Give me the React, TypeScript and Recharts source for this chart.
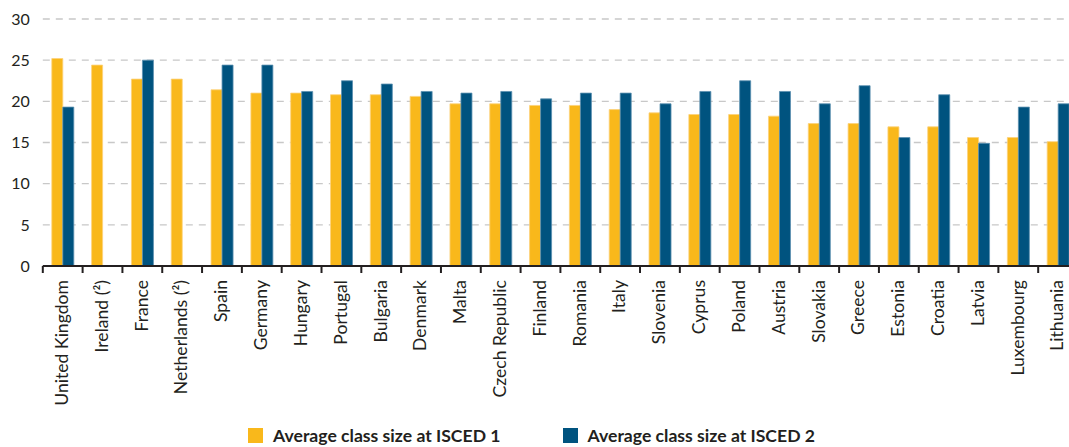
import React from 'react';
import { BarChart, Bar, XAxis, YAxis, CartesianGrid, Legend } from 'recharts';

const countries = [
    'United Kingdom', 'Ireland (²)', 'France', 'Netherlands (²)', 'Spain', 'Germany', 'Hungary',
    'Portugal', 'Bulgaria', 'Denmark', 'Malta', 'Czech Republic', 'Finland', 'Romania', 'Italy',
    'Slovenia', 'Cyprus', 'Poland', 'Austria', 'Slovakia', 'Greece', 'Estonia', 'Croatia',
    'Latvia', 'Luxembourg', 'Lithuania',
];

const isced1 = [
    25.2, 24.4, 22.7, 22.7, 21.4, 21.0, 21.0, 20.8, 20.8, 20.6, 19.7, 19.7, 19.5,
    19.5, 19.0, 18.6, 18.4, 18.4, 18.2, 17.3, 17.3, 16.9, 16.9, 15.6, 15.6, 15.1,
];

const isced2 = [
    19.3, null, 25.0, null, 24.4, 24.4, 21.2, 22.5, 22.1, 21.2, 21.0, 21.2, 20.3,
    21.0, 21.0, 19.7, 21.2, 22.5, 21.2, 19.7, 21.9, 15.6, 20.8, 14.9, 19.3, 19.7,
];

const yTicks = [0, 5, 10, 15, 20, 25, 30];

const data = countries.map((name, i) => ({
    name,
    isced1: isced1[i],
    isced2: isced2[i],
}));

const FONT = 'Lato, "Noto Sans", sans-serif';
const TEXT = '#231f20';
const YELLOW = '#f9b81b';
const BLUE = '#00537f';

// tick marks sit on the category boundaries, labels run upwards
function CountryTick(props: any) {
    const { x, y, payload, index, visibleTicksCount } = props;
    const half = payload.offset || 0;
    return (
        <g>
            <line x1={x - half} x2={x - half} y1={y} y2={y + 7} stroke={TEXT} strokeWidth={2} />
            {index === visibleTicksCount - 1 && (
                <line x1={x + half} x2={x + half} y1={y} y2={y + 7} stroke={TEXT} strokeWidth={2} />
            )}
            <text
                transform={`translate(${x - 1},${y + 14}) rotate(-90)`}
                textAnchor="end"
                dy="0.36em"
                fontSize={17.6}
                fontFamily={FONT}
                fill={TEXT}
            >
                {payload.value}
            </text>
        </g>
    );
}

const renderLegend = (props: any) => (
    <div
        style={{
            display: 'flex',
            justifyContent: 'center',
            gap: 62,
            paddingTop: 9,
            paddingRight: 15,
            fontFamily: FONT,
            fontWeight: 700,
            fontSize: 17.6,
            color: TEXT,
            lineHeight: '15px',
        }}
    >
        {(props.payload || []).map((item: any) => (
            <div key={item.value} style={{ display: 'flex', alignItems: 'center', gap: 10 }}>
                <span style={{ width: 15, height: 15, background: item.color, display: 'inline-block' }} />
                <span>{item.value}</span>
            </div>
        ))}
    </div>
);

export default function App() {
    return (
        <div style={{ position: 'absolute', left: 0, top: 0, width: 1069, height: 447, background: '#fff' }}>
            <BarChart
                width={1069}
                height={447}
                data={data}
                barGap={0}
                barSize={11}
                margin={{ top: 19, right: -9, left: 0, bottom: 0 }}
            >
                <CartesianGrid vertical={false} stroke="#c8c8c8" strokeWidth={1.4} strokeDasharray="7 6" />
                <XAxis
                    dataKey="name"
                    interval={0}
                    height={153}
                    tickSize={0}
                    tickMargin={0}
                    tickLine={false}
                    axisLine={{ stroke: TEXT, strokeWidth: 2 }}
                    tick={<CountryTick />}
                />
                <YAxis
                    width={42.8}
                    domain={[0, 30]}
                    ticks={yTicks}
                    axisLine={false}
                    tickLine={false}
                    tickSize={6}
                    tickMargin={7}
                    tick={{ fontSize: 16, fontFamily: FONT, fill: TEXT }}
                />
                <Legend verticalAlign="bottom" height={28} content={renderLegend} />
                <Bar dataKey="isced1" name="Average class size at ISCED 1" fill={YELLOW} stroke="#fcd27a" strokeWidth={0.8} isAnimationActive={false} />
                <Bar dataKey="isced2" name="Average class size at ISCED 2" fill={BLUE} stroke="#5a8fb0" strokeWidth={0.8} isAnimationActive={false} />
            </BarChart>
        </div>
    );
}
